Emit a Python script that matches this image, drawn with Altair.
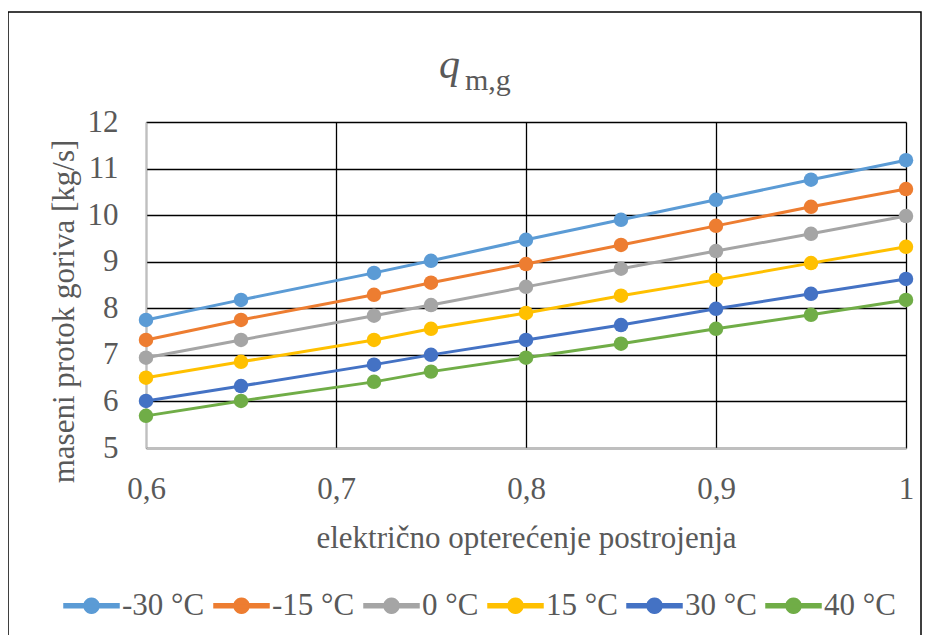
import math
import altair as alt
import pandas as pd

# ---- data ----
loads = [0.6, 0.65, 0.72, 0.75, 0.8, 0.85, 0.9, 0.95, 1.0]
series = ["-30 °C", "-15 °C", "0 °C", "15 °C", "30 °C", "40 °C"]
colors = ["#5B9BD5", "#ED7D31", "#A5A5A5", "#FFC000", "#4472C4", "#70AD47"]
v_m30 = [7.75, 8.18, 8.76, 9.02, 9.47, 9.90, 10.33, 10.76, 11.18]
v_m15 = [7.32, 7.75, 8.29, 8.55, 8.95, 9.36, 9.77, 10.18, 10.56]
v_0 = [6.94, 7.32, 7.84, 8.07, 8.46, 8.85, 9.23, 9.60, 9.98]
v_15 = [6.51, 6.85, 7.32, 7.56, 7.90, 8.27, 8.61, 8.97, 9.32]
v_30 = [6.01, 6.33, 6.79, 7.00, 7.32, 7.64, 7.99, 8.31, 8.63]
v_40 = [5.69, 6.01, 6.42, 6.64, 6.94, 7.24, 7.56, 7.86, 8.18]
x_ticks = [0.6, 0.7, 0.8, 0.9, 1.0]
y_ticks = [5, 6, 7, 8, 9, 10, 11, 12]
title_main = "q"
title_sub = "m,g"
x_title = "električno opterećenje postrojenja"
y_title = "maseni protok goriva [kg/s]"

all_vals = [v_m30, v_m15, v_0, v_15, v_30, v_40]
rows = []
for name, vals in zip(series, all_vals):
    for x, y in zip(loads, vals):
        rows.append({"load": x, "q": y, "series": name})
df = pd.DataFrame(rows)

FONT = "Liberation Serif"
TXT = "#595959"
W, H = 760, 326

# legend symbol: short line with a dot (unit coords, scaled by sqrt(size)/2)
rc, hw = 0.2727, 0.0727
poly = " ".join(
    ("M" if i == 0 else "L")
    + f"{rc * math.cos(2 * math.pi * i / 24):.4f},{rc * math.sin(2 * math.pi * i / 24):.4f}"
    for i in range(24)
)
sym = f"M-1,-{hw}L1,-{hw}L1,{hw}L-1,{hw}Z {poly}Z"

xenc = alt.X(
    "load:Q",
    scale=alt.Scale(domain=[0.6, 1.0], nice=False, zero=False),
    axis=alt.Axis(
        values=x_ticks,
        title=x_title,
        labelExpr="replace(format(datum.value, '~g'), '.', ',')",
        labelFlush=False,
        labelBaseline="alphabetic",
        labelPadding=50,
        titleBaseline="alphabetic",
        titleY=99,
    ),
)
yenc = alt.Y(
    "q:Q",
    scale=alt.Scale(domain=[5, 12], nice=False, zero=False),
    axis=alt.Axis(
        values=y_ticks,
        title=y_title,
        labelPadding=28,
        titleBaseline="alphabetic",
        titleX=-73,
        titleY=189,
    ),
)

color = alt.Color(
    "series:N",
    scale=alt.Scale(domain=series, range=colors),
    sort=series,
    legend=alt.Legend(
        title=None,
        orient="none",
        direction="horizontal",
        legendX=-83,
        legendY=455,
        symbolType=sym,
        symbolSize=3025,
        labelFont=FONT,
        labelFontSize=31,
        labelColor=TXT,
        labelOffset=2,
        columnPadding=6,
    ),
)

lines = alt.Chart(df).mark_line(strokeWidth=3).encode(x=xenc, y=yenc, color=color)
points = alt.Chart(df).mark_point(filled=True, size=210, opacity=1).encode(x=xenc, y=yenc, color=color)

tdf = pd.DataFrame({"main": [title_main], "sub": [title_sub]})
t_main = alt.Chart(tdf).mark_text(
    font=FONT, fontSize=42, fontStyle="italic", color=TXT, align="left", baseline="alphabetic"
).encode(text="main:N", x=alt.value(293), y=alt.value(-44))
t_sub = alt.Chart(tdf).mark_text(
    font=FONT, fontSize=30, color=TXT, align="left", baseline="alphabetic"
).encode(text="sub:N", x=alt.value(319), y=alt.value(-32))

border = alt.Chart(tdf).mark_rect(fill=None, stroke="#000000", strokeWidth=1.5).encode(
    x=alt.value(-138), x2=alt.value(775), y=alt.value(-110), y2=alt.value(560)
)

chart = alt.layer(lines, points, t_main, t_sub, border).properties(
    width=W,
    height=H,
    background="white",
    autosize=alt.AutoSizeParams(type="none"),
    padding={"left": 138, "top": 114, "right": 16, "bottom": 187},
).configure_view(stroke=None).configure_axis(
    grid=True,
    gridColor="#000000",
    gridWidth=1.3,
    gridOpacity=1,
    domainColor="#BFBFBF",
    domainWidth=1.5,
    ticks=False,
    labelFont=FONT,
    labelFontSize=31,
    labelColor=TXT,
    titleFont=FONT,
    titleFontSize=31,
    titleFontWeight="normal",
    titleColor=TXT,
)

chart.save("out.html", embed_options={"renderer": "svg", "actions": False})
